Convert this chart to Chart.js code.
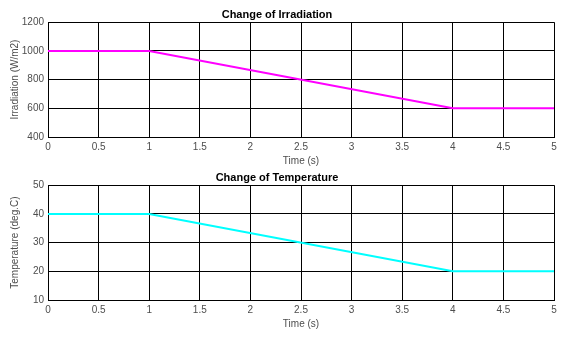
<!DOCTYPE html>
<html>
<head>
<meta charset="utf-8">
<script src="https://cdn.jsdelivr.net/npm/chart.js@4.4.1/dist/chart.umd.min.js"></script>
<style>
    html, body { margin: 0; padding: 0; background: #fff; }
    #wrap { position: relative; width: 567px; height: 342px; }
    .panel { position: absolute; left: 0; width: 567px; height: 170px; }
</style>
</head>
<body>
<div id="wrap">
    <div class="panel" style="top:0"><canvas id="irrChart"></canvas></div>
    <div class="panel" style="top:163px"><canvas id="tempChart"></canvas></div>
</div>
<script>
// Time breakpoints (s) and the profile values at each one
const timeSec = [0, 1, 4, 5];
const irradiation = [1000, 1000, 600, 600];
const temperature = [40, 40, 20, 20];

const xTickStep = 0.5;
const irrRange = [400, 1200, 200];
const tempRange = [10, 50, 10];

const FONT = 'Liberation Sans, Arial, Helvetica, sans-serif';
const tickColor = '#4d4d4d';

// plain numbers: no thousands separator, no trailing ".0"
const plain = v => String(Math.round(v * 100) / 100);

function makeChart(canvasId, title, yLabel, values, color, range) {
    const ctx = document.getElementById(canvasId).getContext('2d');
    return new Chart(ctx, {
        type: 'line',
        data: {
            datasets: [{
                data: timeSec.map((t, i) => ({ x: t, y: values[i] })),
                borderColor: color,
                borderWidth: 2,
                pointRadius: 0,
                tension: 0,
                fill: false
            }]
        },
        options: {
            responsive: true,
            maintainAspectRatio: false,
            animation: false,
            layout: { padding: { left: 0, right: 13, top: 0, bottom: 0 } },
            plugins: {
                legend: { display: false },
                tooltip: { enabled: false },
                title: {
                    display: true,
                    text: title,
                    color: '#000',
                    font: { family: FONT, size: 11, weight: 'bold' },
                    padding: { top: 8, bottom: 1 }
                }
            },
            scales: {
                x: {
                    type: 'linear',
                    min: 0, max: 5,
                    z: 1,
                    ticks: {
                        stepSize: xTickStep,
                        color: tickColor,
                        font: { family: FONT, size: 10 },
                        padding: 4,
                        maxRotation: 0,
                        autoSkip: false,
                        callback: plain
                    },
                    grid: { color: '#000', lineWidth: 1, drawTicks: false },
                    border: { color: '#000', width: 1 },
                    title: {
                        display: true,
                        text: 'Time (s)',
                        color: tickColor,
                        font: { family: FONT, size: 10 },
                        padding: { top: 0, bottom: 3 }
                    },
                    afterFit: s => { s.height = 33; }
                },
                y: {
                    min: range[0], max: range[1],
                    z: 1,
                    ticks: {
                        stepSize: range[2],
                        color: tickColor,
                        font: { family: FONT, size: 10 },
                        padding: 4,
                        callback: plain
                    },
                    grid: { color: '#000', lineWidth: 1, drawTicks: false },
                    border: { color: '#000', width: 1 },
                    title: {
                        display: true,
                        text: yLabel,
                        color: tickColor,
                        font: { family: FONT, size: 10 },
                        padding: { top: 9, bottom: 0 }
                    },
                    afterFit: s => { s.width = 48; }
                }
            }
        }
    });
}

makeChart('irrChart', 'Change of Irradiation', 'Irradiation (W/m2)', irradiation, '#ff00ff', irrRange);
makeChart('tempChart', 'Change of Temperature', 'Temperature (deg.C)', temperature, '#00ffff', tempRange);
</script>
</body>
</html>
